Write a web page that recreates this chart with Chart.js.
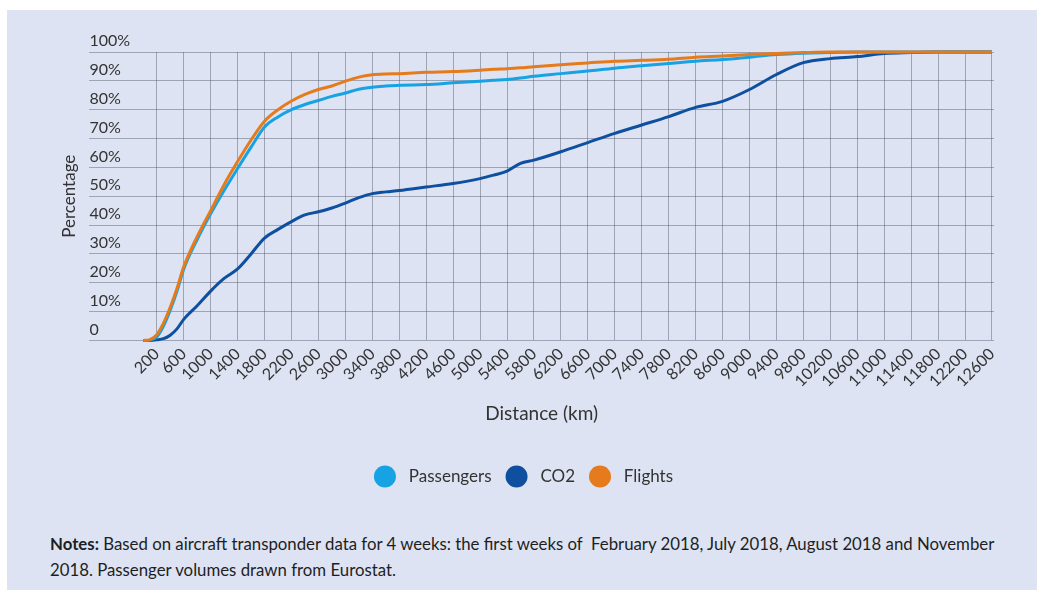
<!DOCTYPE html>
<html>
<head>
<meta charset="utf-8">
<script src="https://cdn.jsdelivr.net/npm/chart.js@4.4.1/dist/chart.umd.min.js"></script>
<style>
  body { margin: 0; background: #fff; font-family: Lato, sans-serif; }
  .panel { position: absolute; left: 7px; top: 10px; width: 1030px; height: 580px; background: #dde3f2; }
  .chart-box { position: absolute; left: 0; top: 0; width: 1030px; height: 500px; }
  .notes { position: absolute; left: 43px; top: 521px; margin: 0; font-size: 16.8px; line-height: 26px; color: #1e1e1e; }
</style>
</head>
<body>
<div class="panel">
  <div class="chart-box"><canvas id="chartDistance"></canvas></div>
  <p class="notes"><b>Notes:</b> Based on aircraft transponder data for 4 weeks: the first weeks of &nbsp;February 2018, July 2018, August 2018 and November<br>2018. Passenger volumes drawn from Eurostat.</p>
</div>
<script>
const distances = [0, 100, 200, 300, 400, 500, 600,
  800, 1000, 1200, 1400, 1600, 1800, 2000, 2200, 2400, 2600, 2800, 3000, 3200, 3400, 3600, 3800,
  4200, 4600, 5000, 5200, 5400, 5600, 5800,
  6200, 6600, 7000, 7400, 7800, 8200, 8600, 9000, 9400, 9800, 10200, 10600, 11000, 11400, 11800, 12200, 12600];

const passengers = [0, 0.1, 1.2, 5, 10.5, 17, 24.7,
  35, 43.9, 52, 59.6, 67, 74, 77.5, 80, 81.8, 83.2, 84.6, 85.8, 87.1, 87.8, 88.2, 88.5,
  88.7, 89.3, 89.9, 90.2, 90.5, 91, 91.6,
  92.5, 93.4, 94.4, 95.2, 96, 96.8, 97.4, 98.2, 99.1, 99.6, 99.8, 100, 100, 100, 100, 100, 100];

const co2 = [0, 0, 0.2, 0.6, 1.8, 4, 7.3,
  12, 17.1, 21.5, 24.8, 30, 35.5, 38.5, 41.2, 43.5, 44.6, 45.9, 47.6, 49.5, 50.9, 51.5, 52,
  53.2, 54.4, 56.1, 57.3, 58.7, 61.4, 62.5,
  65.4, 68.6, 71.8, 74.7, 77.6, 80.8, 82.9, 87, 92.2, 96.3, 97.7, 98.4, 99.5, 99.8, 100, 100, 100];

const flights = [0, 0.3, 2, 6, 11.5, 18, 25.5,
  36, 45, 54, 62, 69.5, 76, 80, 83, 85.3, 87, 88.2, 89.9, 91.3, 92.1, 92.4, 92.5,
  93, 93.2, 93.7, 94, 94.2, 94.5, 94.9,
  95.6, 96.2, 96.8, 97.1, 97.5, 98.2, 98.6, 99.1, 99.5, 99.8, 100, 100, 100, 100, 100, 100, 100];

// x tick labels shown under the grid, every 400 km
const xTicks = [];
for (let km = 200; km <= 12600; km += 400) xTicks.push(km);

const yTicks = [0, 10, 20, 30, 40, 50, 60, 70, 80, 90, 100];

const toPoints = vals => vals.map((v, i) => ({ x: distances[i], y: v }));
const gridColor = 'rgba(70, 76, 95, 0.42)';
const textColor = '#333';

new Chart(document.getElementById('chartDistance'), {
  type: 'line',
  data: {
    datasets: [
      { label: 'Passengers', data: toPoints(passengers), borderColor: '#17a3e3', backgroundColor: '#17a3e3' },
      { label: 'CO2', data: toPoints(co2), borderColor: '#0e4f9f', backgroundColor: '#0e4f9f' },
      { label: 'Flights', data: toPoints(flights), borderColor: '#e57b1c', backgroundColor: '#e57b1c', order: -1 }
    ].map(d => Object.assign(d, { borderWidth: 3, pointRadius: 0, cubicInterpolationMode: 'monotone', clip: false }))
  },
  options: {
    responsive: true,
    maintainAspectRatio: false,
    animation: false,
    layout: { padding: { top: 42, left: 46, right: 43, bottom: 12.5 } },
    plugins: {
      tooltip: { enabled: false },
      legend: {
        position: 'bottom',
        labels: {
          color: textColor,
          font: { family: 'Lato', size: 17 },
          boxWidth: 22,
          boxHeight: 22,
          useBorderRadius: true,
          borderRadius: 11,
          padding: 14,
          sort: (a, b) => a.datasetIndex - b.datasetIndex,
          generateLabels(chart) {
            const items = Chart.defaults.plugins.legend.labels.generateLabels(chart);
            items.forEach(it => { it.lineWidth = 0; it.text = ' ' + it.text; });
            return items;
          }
        }
      }
    },
    scales: {
      x: {
        type: 'linear',
        min: -800,
        max: 12630,
        afterBuildTicks: axis => { axis.ticks = xTicks.map(v => ({ value: v })); },
        grid: { color: gridColor, drawTicks: false },
        border: { display: false },
        ticks: {
          autoSkip: false,
          minRotation: 45,
          maxRotation: 45,
          padding: 4,
          color: textColor,
          font: { family: 'Lato', size: 16 },
          callback: v => String(v)
        },
        title: {
          display: true,
          text: 'Distance (km)',
          color: textColor,
          font: { family: 'Lato', size: 19 },
          padding: { top: 7.7, bottom: 26.2 }
        }
      },
      y: {
        min: 0,
        max: 100,
        afterBuildTicks: axis => { axis.ticks = yTicks.map(v => ({ value: v })); },
        grid: { color: gridColor, drawTicks: false },
        border: { display: false },
        ticks: {
          mirror: true,
          padding: 0,
          labelOffset: -11,
          color: textColor,
          font: { family: 'Lato', size: 16 },
          callback: v => v === 0 ? '0' : v + '%'
        },
        title: {
          display: true,
          text: 'Percentage',
          color: textColor,
          font: { family: 'Lato', size: 17 },
          padding: { top: 6, bottom: 10 }
        }
      }
    }
  }
});
</script>
</body>
</html>
